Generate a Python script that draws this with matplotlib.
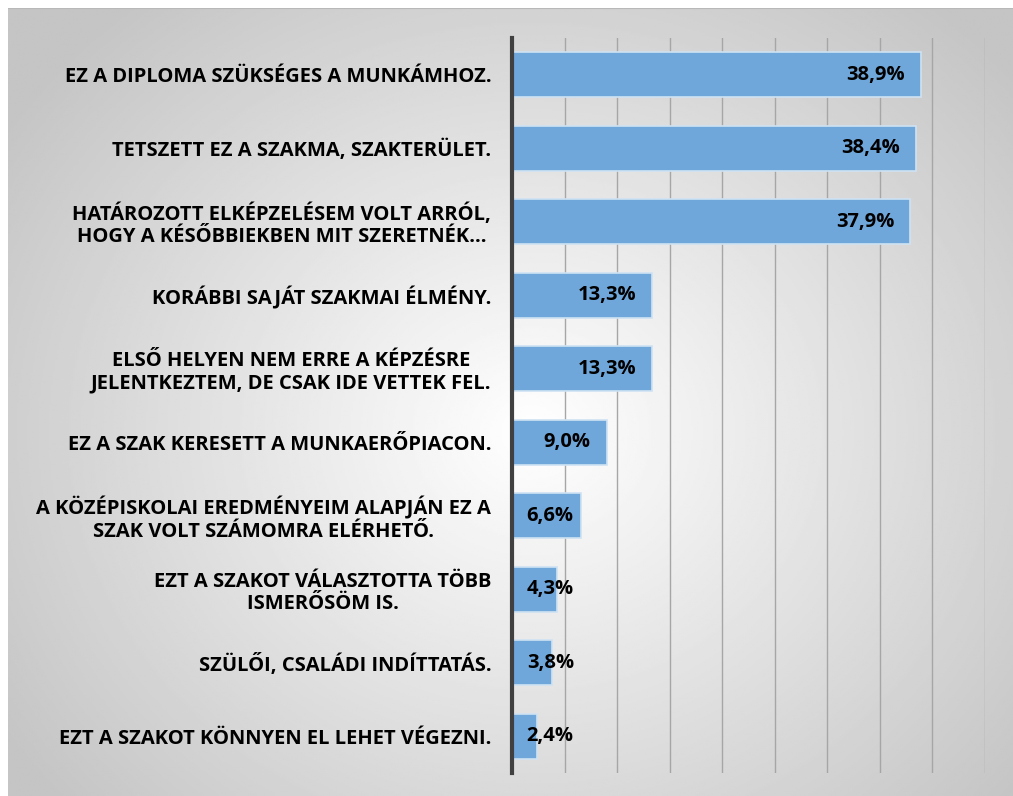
import numpy as np
import matplotlib
matplotlib.use("Agg")
import matplotlib.pyplot as plt

# answers, top to bottom as in the chart
labels = [
    "EZ A DIPLOMA SZÜKSÉGES A MUNKÁMHOZ.",
    "TETSZETT EZ A SZAKMA, SZAKTERÜLET.",
    "HATÁROZOTT ELKÉPZELÉSEM VOLT ARRÓL,\nHOGY A KÉSŐBBIEKBEN MIT SZERETNÉK…",
    "KORÁBBI SAJÁT SZAKMAI ÉLMÉNY.",
    "ELSŐ HELYEN NEM ERRE A KÉPZÉSRE\nJELENTKEZTEM, DE CSAK IDE VETTEK FEL.",
    "EZ A SZAK KERESETT A MUNKAERŐPIACON.",
    "A KÖZÉPISKOLAI EREDMÉNYEIM ALAPJÁN EZ A\nSZAK VOLT SZÁMOMRA ELÉRHETŐ.",
    "EZT A SZAKOT VÁLASZTOTTA TÖBB\nISMERŐSÖM IS.",
    "SZÜLŐI, CSALÁDI INDÍTTATÁS.",
    "EZT A SZAKOT KÖNNYEN EL LEHET VÉGEZNI.",
]
values = [38.9, 38.4, 37.9, 13.3, 13.3, 9.0, 6.6, 4.3, 3.8, 2.4]

W, H = 1013, 796
fig = plt.figure(figsize=(W / 100, H / 100), dpi=100)
fig.patch.set_facecolor("white")

# radial grey background (chart area), white strip top/left
bg = fig.add_axes([8 / W, 0, 1 - 8 / W, 1 - 8 / H])
yy, xx = np.mgrid[0:400, 0:500]
cx, cy = 260, 215
r = np.sqrt(((xx - cx) / 520.0) ** 2 + ((yy - cy) / 470.0) ** 2)
shade = np.clip(1.0 - 0.38 * r, 0.77, 1.0)
bg.imshow(shade, cmap="gray", vmin=0, vmax=1, aspect="auto",
          extent=[0, 1, 0, 1], origin="upper")
bg.axhline(1, color="#b8b8b8", lw=1.5)
bg.set_axis_off()

x0, x1 = 512, 985
y_top, y_bot = 38, 773
ax = fig.add_axes([x0 / W, 1 - y_bot / H, (x1 - x0) / W, (y_bot - y_top) / H])
ax.patch.set_alpha(0)

pos = np.arange(len(values))
ax.barh(pos, values, height=0.61, color="#6fa7db", edgecolor="#cfe2f3",
        linewidth=1.2, zorder=3)
ax.set_ylim(len(values) - 0.5, -0.5)
ax.set_xlim(0, 45)
ax.set_xticks(np.arange(5, 46, 5))
ax.grid(axis="x", color="#a6a6a6", lw=1.0, zorder=0)
ax.tick_params(axis="x", length=0, labelbottom=False)
ax.tick_params(axis="y", length=0, pad=15)
ax.set_yticks(pos)
ax.set_yticklabels(labels, fontfamily="Open Sans", fontweight="bold",
                   fontsize=14.5, multialignment="center",
                   linespacing=1.15)

for s in ["top", "right", "bottom"]:
    ax.spines[s].set_visible(False)
ax.spines["left"].set_color("#404040")
ax.spines["left"].set_linewidth(3)
ax.spines["left"].set_zorder(5)

for i, v in enumerate(values):
    txt = f"{v:.1f}%".replace(".", ",")
    if v >= 8:
        ax.text(v - 1.5, i, txt, ha="right", va="center",
                fontfamily="Open Sans", fontweight="bold", fontsize=14.5,
                color="black", zorder=6)
    else:
        ax.text(1.4, i, txt, ha="left", va="center",
                fontfamily="Open Sans", fontweight="bold", fontsize=14.5,
                color="black", zorder=6)

fig.savefig("out.png", dpi=100)
